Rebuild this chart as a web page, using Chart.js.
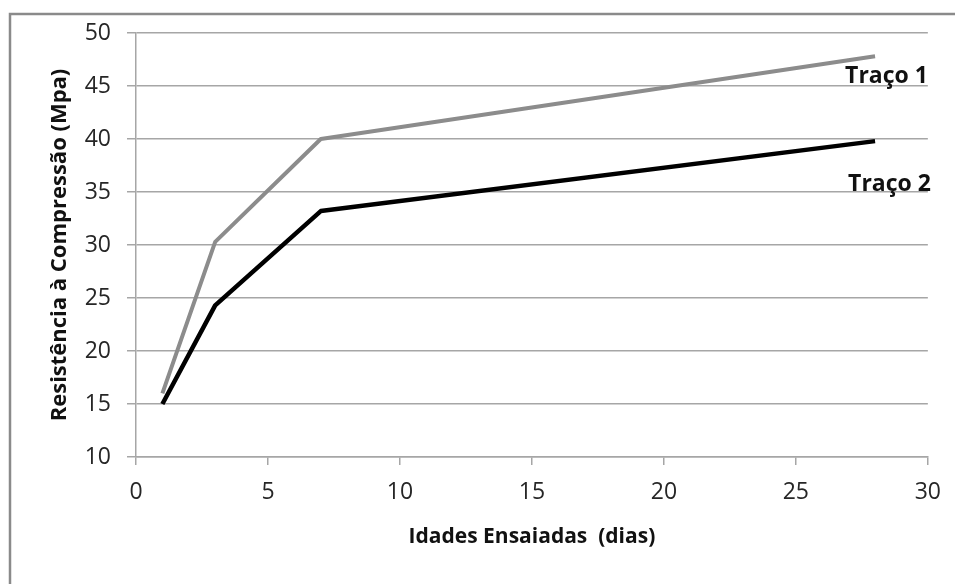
<!DOCTYPE html>
<html>
<head>
<meta charset="utf-8">
<script src="https://cdn.jsdelivr.net/npm/chart.js@4/dist/chart.umd.min.js"></script>
<style>
  html, body { margin: 0; padding: 0; background: #ffffff; }
  #wrap { width: 955px; height: 584px; position: relative; }
</style>
</head>
<body>
<div id="wrap"><canvas id="chart" width="955" height="584"></canvas></div>
<script>
// Ages tested (days) and compressive strength (MPa) for each mix
const ages = [1, 3, 7, 28];
const traco1 = [16.0, 30.3, 40.0, 47.8];
const traco2 = [15.0, 24.3, 33.2, 39.8];
const seriesNames = ['Traço 1', 'Traço 2'];
const xTicks = [0, 5, 10, 15, 20, 25, 30];
const yTicks = [10, 15, 20, 25, 30, 35, 40, 45, 50];

const toPoints = (vals) => ages.map((a, i) => ({ x: a, y: vals[i] }));

const GRID = '#a6a6a6';
const TEXT = '#262626';

// Outer frame of the chart (top and left edges)
const framePlugin = {
  id: 'frame',
  beforeDraw(chart) {
    const ctx = chart.ctx;
    ctx.save();
    ctx.fillStyle = '#ffffff';
    ctx.fillRect(0, 0, chart.width, chart.height);
    ctx.strokeStyle = '#8a8a8a';
    ctx.lineWidth = 2.5;
    ctx.beginPath();
    ctx.moveTo(10, chart.height + 5);
    ctx.lineTo(10, 14);
    ctx.lineTo(chart.width + 5, 14);
    ctx.stroke();
    ctx.restore();
  }
};

// Series names written next to the end of each line
const seriesLabelPlugin = {
  id: 'seriesLabels',
  afterDatasetsDraw(chart) {
    const ctx = chart.ctx;
    const xs = chart.scales.x, ys = chart.scales.y;
    const offsets = [{ dx: -30, dy: 20 }, { dx: -27, dy: 43 }];
    ctx.save();
    ctx.font = 'bold 23px "Open Sans"';
    ctx.fillStyle = '#111111';
    ctx.textAlign = 'left';
    ctx.textBaseline = 'middle';
    chart.data.datasets.forEach((ds, i) => {
      const last = ds.data[ds.data.length - 1];
      const px = xs.getPixelForValue(last.x) + offsets[i].dx;
      const py = ys.getPixelForValue(last.y) + offsets[i].dy;
      ctx.fillText(seriesNames[i], px, py);
    });
    ctx.restore();
  }
};

new Chart(document.getElementById('chart'), {
  type: 'scatter',
  data: {
    datasets: [
      {
        label: seriesNames[0],
        data: toPoints(traco1),
        showLine: true,
        borderColor: '#8c8c8c',
        backgroundColor: '#8c8c8c',
        borderWidth: 4,
        pointRadius: 0,
        tension: 0,
        borderJoinStyle: 'round'
      },
      {
        label: seriesNames[1],
        data: toPoints(traco2),
        showLine: true,
        borderColor: '#000000',
        backgroundColor: '#000000',
        borderWidth: 4.5,
        pointRadius: 0,
        tension: 0,
        borderJoinStyle: 'round'
      }
    ]
  },
  options: {
    responsive: false,
    animation: false,
    layout: { padding: { left: 0, top: 33, right: 25, bottom: 0 } },
    plugins: {
      legend: { display: false },
      tooltip: { enabled: false }
    },
    scales: {
      x: {
        type: 'linear',
        min: 0,
        max: 30,
        afterBuildTicks(scale) { scale.ticks = xTicks.map(v => ({ value: v })); },
        afterFit(scale) { scale.height = 584 - 457; },
        grid: {
          drawOnChartArea: false,
          drawTicks: true,
          tickLength: 8,
          color: GRID,
          lineWidth: 1.5
        },
        border: { display: true, color: GRID, width: 1.5 },
        ticks: {
          color: TEXT,
          font: { family: '"Open Sans"', size: 23 },
          padding: 14,
          maxRotation: 0
        },
        title: {
          display: true,
          text: 'Idades Ensaiadas  (dias)',
          color: '#111111',
          font: { family: '"Open Sans"', size: 21, weight: 'bold' },
          padding: { top: 10, bottom: 34 }
        }
      },
      y: {
        type: 'linear',
        min: 10,
        max: 50,
        afterBuildTicks(scale) { scale.ticks = yTicks.map(v => ({ value: v })); },
        afterFit(scale) { scale.width = 136; },
        grid: {
          drawOnChartArea: true,
          drawTicks: true,
          tickLength: 9,
          color: GRID,
          lineWidth: 1.5
        },
        border: { display: true, color: GRID, width: 1.5 },
        ticks: {
          color: TEXT,
          font: { family: '"Open Sans"', size: 23 },
          padding: 16
        },
        title: {
          display: true,
          text: 'Resistência à Compressão (Mpa)',
          color: '#111111',
          font: { family: '"Open Sans"', size: 22, weight: 'bold' },
          padding: { top: 47, bottom: 0 }
        }
      }
    }
  },
  plugins: [framePlugin, seriesLabelPlugin]
});
</script>
</body>
</html>
